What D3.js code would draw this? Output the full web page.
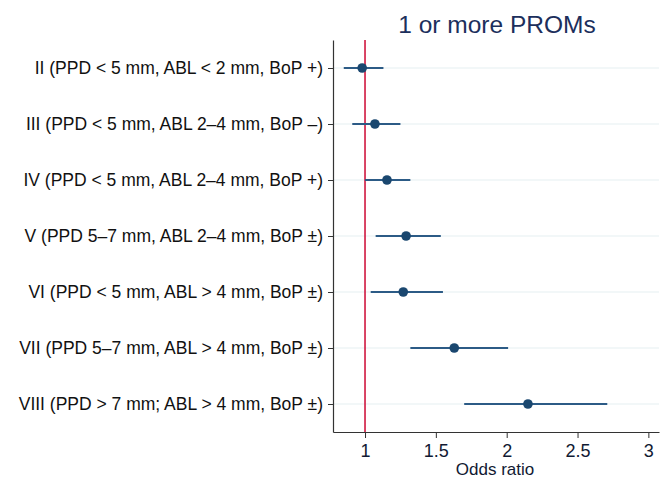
<!DOCTYPE html>
<html>
<head>
<meta charset="utf-8">
<script src="https://cdn.jsdelivr.net/npm/d3@7"></script>
<style>
  body { margin: 0; background: #fff; }
  svg { display: block; font-family: "Liberation Sans", Arial, sans-serif; }
</style>
</head>
<body>
<div id="chart"></div>
<script>
// Forest plot: odds ratios for 1 or more PROMs

var categories = [
    "II (PPD < 5 mm, ABL < 2 mm, BoP +)",
    "III (PPD < 5 mm, ABL 2\u20134 mm, BoP \u2013)",
    "IV (PPD < 5 mm, ABL 2\u20134 mm, BoP +)",
    "V (PPD 5\u20137 mm, ABL 2\u20134 mm, BoP \u00b1)",
    "VI (PPD < 5 mm, ABL > 4 mm, BoP \u00b1)",
    "VII (PPD 5\u20137 mm, ABL > 4 mm, BoP \u00b1)",
    "VIII (PPD > 7 mm; ABL > 4 mm, BoP \u00b1)"
];
var oddsRatio = [0.98, 1.07, 1.155, 1.29, 1.27, 1.63, 2.15];
var lowerCI   = [0.85, 0.91, 1.0, 1.075, 1.04, 1.32, 1.70];
var upperCI   = [1.13, 1.25, 1.32, 1.535, 1.55, 2.01, 2.71];
var xTicks = [1, 1.5, 2, 2.5, 3];

var data = categories.map(function(c, i) {
    return {label: c, or: oddsRatio[i], lo: lowerCI[i], hi: upperCI[i]};
});

var W = 660, H = 479;
var plotLeft = 333, plotRight = 659, plotTop = 40, plotBottom = 432;

var svg = d3.select("#chart").append("svg")
    .attr("width", W)
    .attr("height", H);

var x = d3.scaleLinear().domain([0.774, 3.075]).range([plotLeft, plotRight]);
var y = d3.scalePoint().domain(categories).range([plotTop, plotBottom]).padding(0.5);

// Title
svg.append("text")
    .attr("x", 497)
    .attr("y", 33)
    .attr("text-anchor", "middle")
    .attr("font-size", "24.5px")
    .attr("fill", "#1c2f5c")
    .text("1 or more PROMs");

// Gridlines
svg.append("g").selectAll("line")
    .data(categories)
    .enter().append("line")
    .attr("x1", plotLeft)
    .attr("x2", plotRight)
    .attr("y1", function(d) { return y(d); })
    .attr("y2", function(d) { return y(d); })
    .attr("stroke", "#e6eff2")
    .attr("stroke-width", 1.2);

// Reference line at OR = 1
svg.append("line")
    .attr("x1", x(1)).attr("x2", x(1))
    .attr("y1", plotTop).attr("y2", plotBottom)
    .attr("stroke", "#d0173f")
    .attr("stroke-width", 1.6);

// Y axis
var yAxis = svg.append("g")
    .attr("transform", "translate(" + plotLeft + ",0)")
    .call(d3.axisLeft(y).tickSize(5).tickPadding(5).tickSizeOuter(0));
yAxis.select(".domain").attr("stroke", "#333").attr("stroke-width", 1.2);
yAxis.selectAll(".tick line").attr("stroke", "#333");
yAxis.selectAll(".tick text")
    .attr("font-size", "17.5px")
    .attr("font-family", "Liberation Sans, Arial, sans-serif")
    .attr("fill", "#111");

// X axis
var xAxis = svg.append("g")
    .attr("transform", "translate(0," + plotBottom + ")")
    .call(d3.axisBottom(x).tickValues(xTicks).tickFormat(d3.format("")).tickSize(6).tickPadding(6).tickSizeOuter(0));
xAxis.select(".domain").attr("stroke", "#333").attr("stroke-width", 1.2);
xAxis.selectAll(".tick line").attr("stroke", "#333");
xAxis.selectAll(".tick text")
    .attr("font-size", "18px")
    .attr("font-family", "Liberation Sans, Arial, sans-serif")
    .attr("fill", "#111a33");

svg.append("text")
    .attr("x", 495)
    .attr("y", 475)
    .attr("text-anchor", "middle")
    .attr("font-size", "17px")
    .attr("fill", "#111a33")
    .text("Odds ratio");

// CI lines
svg.append("g").selectAll("line")
    .data(data)
    .enter().append("line")
    .attr("x1", function(d) { return x(d.lo); })
    .attr("x2", function(d) { return x(d.hi); })
    .attr("y1", function(d) { return y(d.label); })
    .attr("y2", function(d) { return y(d.label); })
    .attr("stroke", "#2c5b86")
    .attr("stroke-width", 2);

// Points
svg.append("g").selectAll("circle")
    .data(data)
    .enter().append("circle")
    .attr("cx", function(d) { return x(d.or); })
    .attr("cy", function(d) { return y(d.label); })
    .attr("r", 4.8)
    .attr("fill", "#1a476f");
</script>
</body>
</html>
